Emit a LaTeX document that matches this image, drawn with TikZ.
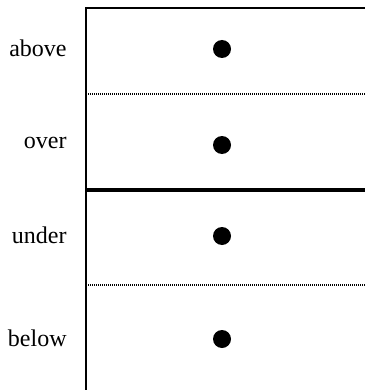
\documentclass[tikz,border=0pt]{standalone}
\usepackage{fontspec}
\setmainfont{Liberation Serif}
\usetikzlibrary{positioning}
\tikzset{
  rowlabel/.style={anchor=base east, inner sep=0pt, font=\fontsize{12}{14}\selectfont},
  spot/.style={circle, fill=black, minimum size=9pt, inner sep=0pt},
  frame/.style={line width=1pt},
  divider/.style={line width=0.6pt, dash pattern=on 0.5pt off 0.5pt},
  ground/.style={line width=2pt},
}

\begin{document}
\begin{tikzpicture}[x={(0.5pt,0)}, y={(0,-0.5pt)}]
\useasboundingbox (0,0) rectangle (364,390);
% frame
\coordinate (bl) at (86,391);
\coordinate (tl) at (86,8);
\coordinate (tr) at (365,8);
\draw[frame] (bl) -- (tl) -- (tr);
% dividers
\coordinate (d1l) at (86,94);  \coordinate (d1r) at (365,94);
\coordinate (gl)  at (86,190); \coordinate (gr)  at (365,190);
\coordinate (d2l) at (86,285); \coordinate (d2r) at (365,285);
\draw[divider] (d1l) -- (d1r);
\draw[ground] (gl) -- (gr);
\draw[divider] (d2l) -- (d2r);
% labels
\node[rowlabel] (above) at (67,57)  {above};
\node[rowlabel] (over)  at (67,148) {over};
\node[rowlabel] (under) at (67,243) {under};
\node[rowlabel] (below) at (67,346) {below};
% dots
\node[spot] (s1) at (222,49)  {};
\node[spot] (s2) at (222,145) {};
\node[spot] (s3) at (222,236) {};
\node[spot] (s4) at (222,339) {};
\end{tikzpicture}
\end{document}
